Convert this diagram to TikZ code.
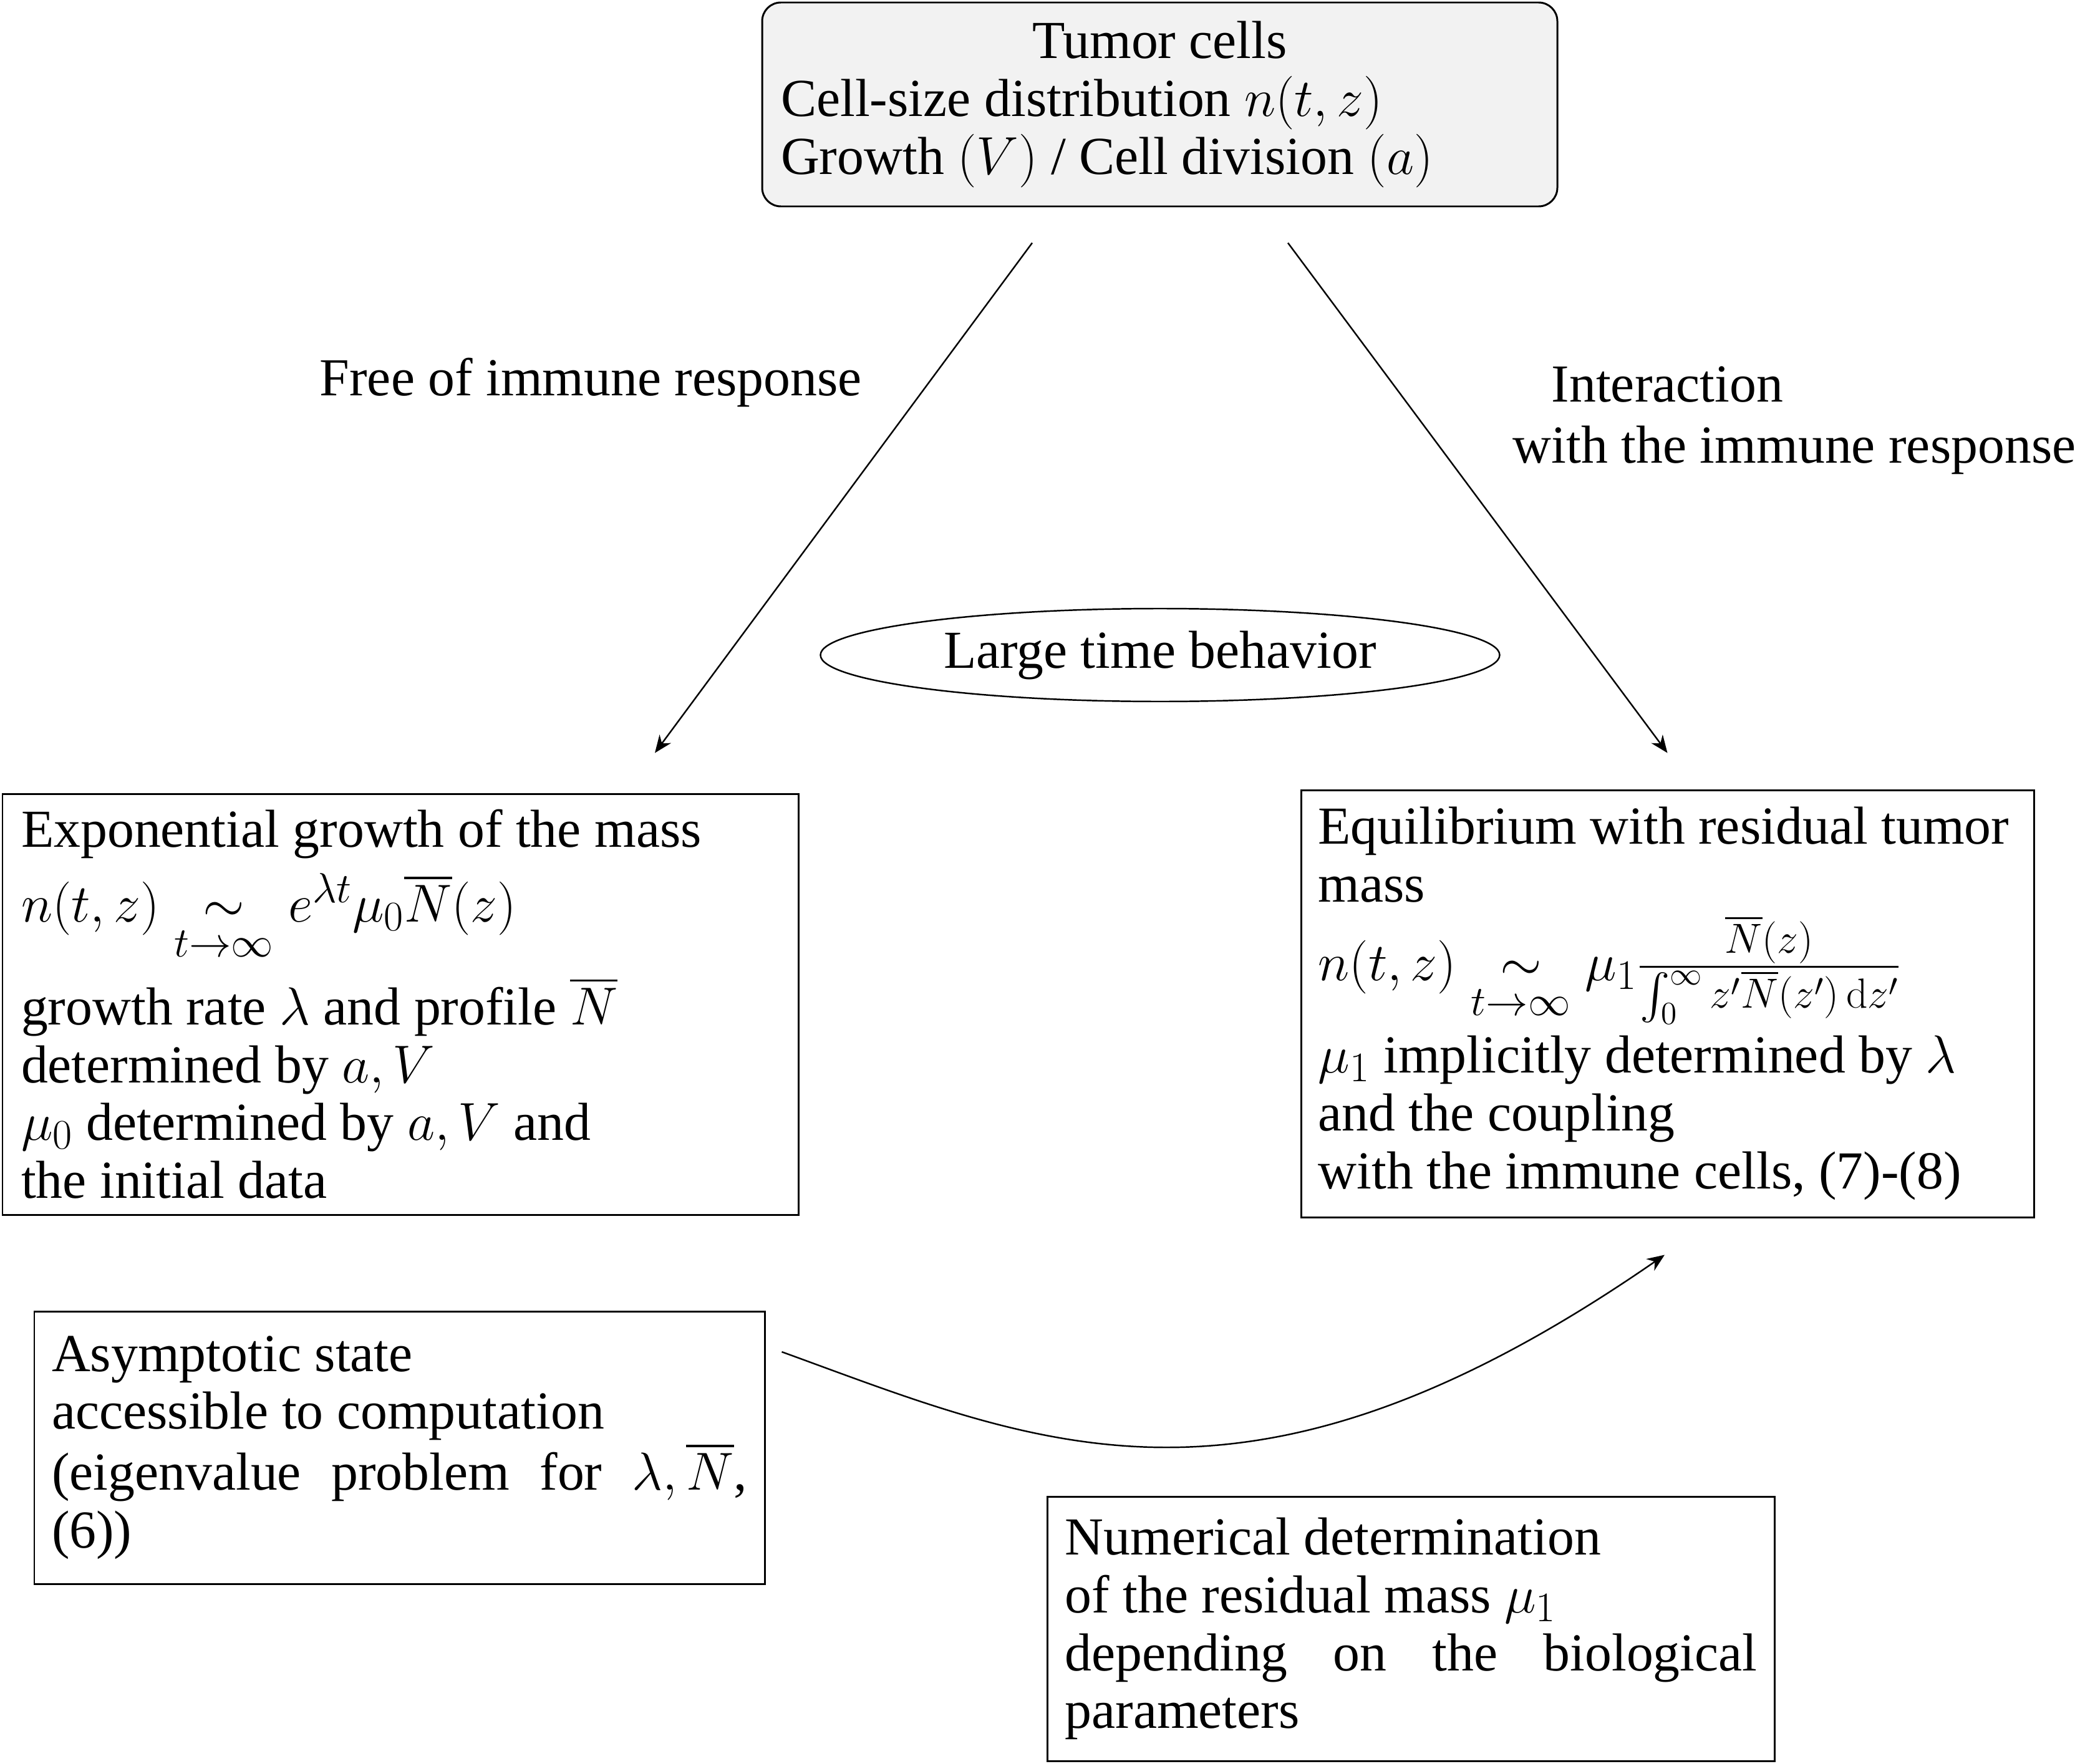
\RequirePackage{fix-cm}
\documentclass[tikz,border=0pt]{standalone}
\usepackage{amsmath}
\usepackage[no-math]{fontspec}
\setmainfont{Liberation Serif}
\DeclareMathSizes{24.4}{24.4}{19.2}{14.6}
\usetikzlibrary{shapes.geometric,arrows.meta}

\begin{document}
\begin{tikzpicture}[
    >={Stealth[length=8pt,width=6.5pt]},
    font=\fontsize{24.4}{26.4}\selectfont,
    every node/.style={inner sep=0pt},
    tumorbox/.style={draw,line width=0.85pt,rounded corners=0.3cm,fill=gray!10,
      text width=12.15cm,inner xsep=0.3cm,minimum height=3.27cm,align=justify},
    resultbox/.style={draw,line width=0.85pt,inner xsep=0.3cm,align=justify},
    notebox/.style={draw,line width=0.85pt,inner xsep=0.28cm,align=justify},
    link/.style={line width=0.7pt,->}]
  \useasboundingbox (0,0) rectangle (33.27,-28.29);

  \node[tumorbox] (tumor) at (18.595,-1.675)
    {{\centering Tumor cells\par}
     Cell-size distribution $n(t,z)$\\
     Growth $(V)$ / Cell division $(a)$};

  \node[anchor=base west] (free) at (5.12,-6.34) {Free of immune response};
  \node[anchor=base west,text width=10cm,align=justify] (inter) at (24.25,-6.44)
    {\hspace*{0.62cm}Interaction\\[0.06cm]with the immune response};

  \node[draw,ellipse,line width=0.7pt,minimum width=10.89cm,minimum height=1.49cm]
    (large) at (18.6,-10.505) {Large time behavior};

  \node[resultbox,text width=12.16cm,minimum height=6.75cm] (expo) at (6.42,-16.105)
    {Exponential growth of the mass\\[0.2cm]
     $n(t,z)\underset{t\to\infty}{\sim}e^{\lambda t}\mu_0\overline{N}(z)$\\[0.2cm]
     growth rate $\lambda$ and profile $\overline{N}$\\
     determined by $a,V$\\
     $\mu_0$ determined by $a,V$ and\\
     the initial data};

  \node[resultbox,text width=11.2cm,inner xsep=0.275cm,minimum height=6.85cm] (equil) at (26.735,-16.095)
    {Equilibrium with residual tumor\\
     mass\\[0.17cm]
     $n(t,z)\underset{t\to\infty}{\sim}\mu_1\frac{\overline{N}(z)}{\int_0^\infty z'\overline{N}(z')\,\mathrm{d}z'}$\\[0.15cm]
     $\mu_1$ implicitly determined by $\lambda$\\
     and the coupling\\
     with the immune cells, (7)-(8)};

  \node[notebox,text width=11.15cm,minimum height=4.37cm] (asym) at (6.405,-23.215)
    {Asymptotic state\newline
     accessible to computation\newline
     (eigenvalue problem for $\lambda,\overline{N}$,\linebreak
     (6))};

  \node[notebox,text width=11.1cm,minimum height=4.24cm] (numer) at (22.625,-26.12)
    {Numerical determination\newline
     of the residual mass $\mu_1$\newline
     depending on the biological\linebreak
     parameters};

  \draw[link] ([xshift=-2.045cm,yshift=-0.57cm]tumor.south) -- ([xshift=4.08cm,yshift=0.64cm]expo.north);
  \draw[link] ([xshift=2.055cm,yshift=-0.57cm]tumor.south) -- ([yshift=0.58cm]equil.north);
  \draw[link] ([xshift=0.26cm,yshift=1.535cm]asym.east)
    .. controls (16.69,-23.19) and (20.02,-24.74) .. ([xshift=-0.045cm,yshift=-0.59cm]equil.south);
\end{tikzpicture}
\end{document}
